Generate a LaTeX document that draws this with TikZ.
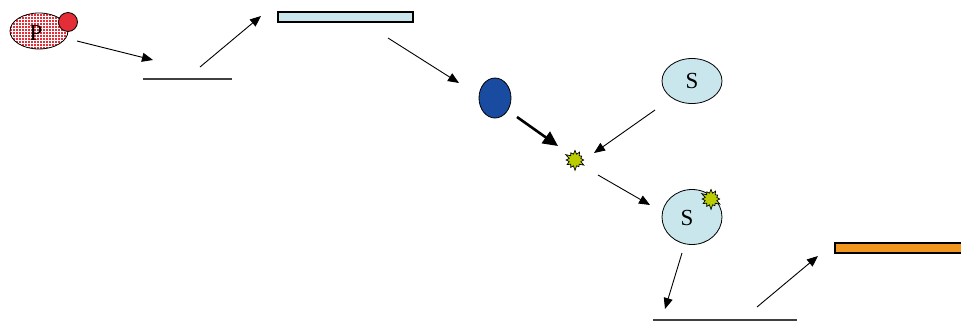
\documentclass[tikz,border=0pt]{standalone}
\usepackage{fontspec}
\setmainfont{Liberation Serif}
\usetikzlibrary{arrows.meta,shapes.geometric,shapes.symbols,patterns}
\definecolor{pred}{RGB}{228,45,55}
\definecolor{lblue}{RGB}{200,230,236}
\definecolor{dblue}{RGB}{25,75,160}
\definecolor{lime}{RGB}{185,205,0}
\definecolor{orng}{RGB}{240,150,30}
\begin{document}
\begin{tikzpicture}[x=1pt,y=-1pt,
  arr/.style={-{Triangle[length=11pt,width=9pt]},line width=0.9pt},
  thickarr/.style={-{Triangle[length=15pt,width=14pt]},line width=2.6pt},
  oval/.style={ellipse,draw,line width=0.8pt,inner sep=0pt,font=\fontsize{23}{24}\selectfont},
  bar/.style={draw,line width=1.2pt,inner sep=0pt,rectangle},
  flat/.style={line width=1.3pt,draw=black!75},
  burst/.style={starburst,starburst points=12,starburst point height=5pt,minimum size=22pt,inner sep=0pt,fill=lime,draw,line width=0.7pt}]
\pgfmathsetseed{7}
\useasboundingbox (0,0) rectangle (961,325);
% P molecule
\node[oval,minimum width=58pt,minimum height=36pt,preaction={fill=pred},pattern=grid,pattern color=white] (P) at (39,31) {};
\node at (36,33) {\fontsize{23}{24}\selectfont P};
\node[circle,draw,fill=pred,line width=0.8pt,minimum size=19pt,inner sep=0pt] (Pdot) at (68,22) {};
% first flat line and bar
\coordinate (l1a) at (143,79); \coordinate (l1b) at (232,79);
\draw[flat] (l1a) -- (l1b);
\node[bar,fill=lblue,minimum width=135pt,minimum height=10pt] (bar1) at (345.5,17) {};
% blue oval
\node[ellipse,draw,line width=0.8pt,fill=dblue,minimum width=32pt,minimum height=40pt,inner sep=0pt] (B) at (495,98) {};
% burst
\node[burst] (X) at (575,160) {};
% S ovals
\node[oval,fill=lblue,minimum width=60pt,minimum height=45pt] (S1) at (692,81) {S};
\node[oval,fill=lblue,minimum width=60pt,minimum height=55pt] (S2) at (692,217) {};
\node[font=\fontsize{23}{24}\selectfont] at (687,218) {S};
\node[burst] (X2) at (711,199) {};
% second flat line and orange bar
\coordinate (l2a) at (653,320); \coordinate (l2b) at (797,320);
\draw[flat] (l2a) -- (l2b);
\node[bar,fill=orng,minimum width=140pt,minimum height=10pt] (bar2) at (905,248) {};
% arrow endpoints
\coordinate (a1s) at (77,41);  \coordinate (a1e) at (153,60);
\coordinate (a2s) at (200,67); \coordinate (a2e) at (261,16);
\coordinate (a3s) at (388,38); \coordinate (a3e) at (459,83);
\coordinate (a4s) at (517,117); \coordinate (a4e) at (558,146);
\coordinate (a5s) at (655,110); \coordinate (a5e) at (594,153);
\coordinate (a6s) at (598,175); \coordinate (a6e) at (650,205);
\coordinate (a7s) at (682,253); \coordinate (a7e) at (665,309);
\coordinate (a8s) at (757,307); \coordinate (a8e) at (818,256);
\draw[arr] (a1s) -- (a1e);
\draw[arr] (a2s) -- (a2e);
\draw[arr] (a3s) -- (a3e);
\draw[thickarr] (a4s) -- (a4e);
\draw[arr] (a5s) -- (a5e);
\draw[arr] (a6s) -- (a6e);
\draw[arr] (a7s) -- (a7e);
\draw[arr] (a8s) -- (a8e);
\end{tikzpicture}
\end{document}
